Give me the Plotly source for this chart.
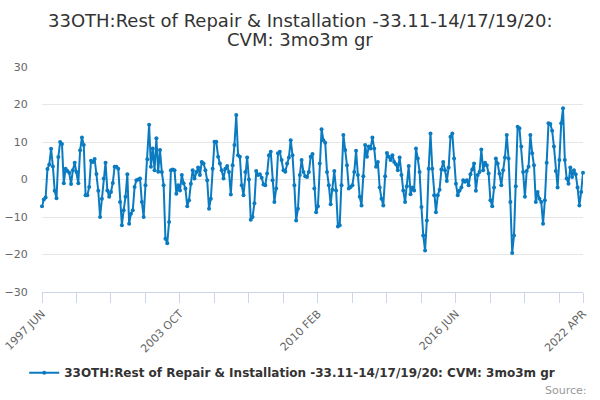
import pandas as pd
import plotly.graph_objects as go

# --- data -----------------------------------------------------------------
months = pd.date_range("1997-06-01", "2022-04-01", freq="MS")
categories = [d.strftime("%Y %b").upper() for d in months]

values = [
    -7.1, -5.3, -4.8, 2.8, 4.0, 8.2, 3.5, -3.0, -5.0, 6.0,
    10.0, 9.5, -1.0, 2.9, 2.3, 1.8, -1.2, 2.5, 4.5, 2.0,
    -1.0, 7.8, 11.2, 9.2, -4.2, -4.2, -2.0, 5.0, 4.7, 5.5,
    1.5, -3.0, -10.0, -5.1, 0.3, 4.5, -2.9, -4.6, -3.3, -0.9,
    3.4, 3.4, 2.9, -6.0, -12.2, -8.2, -4.6, 1.4, -11.8, -9.1,
    -8.2, -2.0, -0.2, 0.0, 0.3, -6.0, -10.0, -1.5, 5.4, 14.6,
    3.4, 8.3, 2.5, 11.0, 2.1, 7.9, 2.0, -1.5, -15.8, -17.0,
    -11.3, 2.5, 2.7, 2.5, -3.8, -1.5, -2.9, 1.2, -1.0, -2.4,
    -7.1, -5.5, -1.1, 2.5, 0.3, 2.0, 3.2, 1.2, 4.7, 4.3,
    2.5, -0.2, -7.8, -5.1, 2.9, 10.1, 10.1, 6.1, 4.3, 2.5,
    0.3, 2.9, 3.6, 2.0, -4.0, 3.8, 9.2, 17.2, 6.5, 6.1,
    -1.5, -4.2, 2.0, 5.9, 0.0, -10.7, -10.0, -6.3, 2.3, 1.2,
    1.4, 0.5, -1.3, -1.5, 1.6, 6.5, 7.4, -0.2, -6.0, -2.4,
    7.0, 7.4, 5.2, 2.5, 2.1, 4.3, 5.9, 10.5, 6.5, -1.5,
    -10.9, -7.8, 1.2, 5.2, 2.0, 0.9, 0.7, 2.0, 6.1, 6.8,
    -2.4, -8.7, -7.1, 4.3, 13.4, 10.5, 9.8, 2.0, -1.5, -6.6,
    -2.7, 2.3, -2.9, -12.5, -12.2, -1.5, 11.9, 7.9, 3.8, -2.4,
    -2.0, -1.5, 2.0, 7.7, 1.2, -4.6, -6.9, 0.9, 9.2, 6.1,
    8.8, 8.3, 11.2, 8.3, 3.4, 4.7, -2.1, -5.1, -6.9, 0.9,
    7.1, 6.1, 5.2, 6.5, 4.7, 4.1, 2.5, 5.9, 1.2, -2.9,
    -6.0, -1.8, 3.6, -3.9, -2.1, -2.9, 8.3, 5.6, 2.0, -7.3,
    -14.9, -18.9, -10.9, 2.9, 12.3, 2.9, -4.2, -8.7, -4.2, -2.7,
    2.7, 4.7, 2.5, -0.4, 3.2, 11.4, 12.3, 5.6, -1.1, -4.2,
    -2.9, -2.1, -0.2, -0.6, -0.2, -1.5, 1.4, 2.7, 4.3, -3.0,
    1.2, 2.0, 8.0, 2.5, 4.5, 3.8, 1.6, -5.5, -7.1, -2.1,
    5.6, 4.3, 1.6, -1.5, 2.5, 5.9, 11.9, 5.6, -6.0, -19.6,
    -14.9, -1.8, 14.1, 13.7, 8.8, 2.0, -4.6, 2.3, 3.4, 11.9,
    7.0, 3.8, -6.0, -3.3, -5.1, -6.0, -11.8, -5.5, 4.5, 15.0,
    14.8, 13.0, 8.8, 2.3, -2.1, 5.2, 15.0, 19.0, 5.2, 0.3,
    -1.1, 3.2, 0.7, 2.5, 1.4, -2.1, -6.9, -3.3, 1.8,
]

series_name = "33OTH:Rest of Repair & Installation -33.11-14/17/19/20: CVM: 3mo3m gr"
title_lines = ["33OTH:Rest of Repair & Installation -33.11-14/17/19/20:",
               "CVM: 3mo3m gr"]
labelled_ticks = ["1997 JUN", "2003 OCT", "2010 FEB", "2016 JUN", "2022 APR"]
tick_step = 19
y_ticks = [-30, -20, -10, 0, 10, 20, 30]

# --- ticks ----------------------------------------------------------------
tick_idx = list(range(0, len(categories), tick_step))
if tick_idx[-1] != len(categories) - 1:
    tick_idx.append(len(categories) - 1)
tickvals = [categories[i] for i in tick_idx]
ticktext = [c if c in labelled_ticks else "" for c in tickvals]

FONT = "DejaVu Sans"
LINE = "#0b7bc1"
W, H = 600, 400
ML, MR, MT, MB = 42, 17, 67, 108
PW, PH = W - ML - MR, H - MT - MB

def px_x(x):  # container pixel -> paper x
    return (x - ML) / PW

def px_y(y):  # container pixel -> paper y
    return 1 - (y - MT) / PH

fig = go.Figure()
fig.add_trace(go.Scatter(
    x=categories, y=values, mode="lines+markers", name=series_name,
    line=dict(color=LINE, width=2),
    marker=dict(color=LINE, size=4),
    cliponaxis=False,
))

annotations = [
    dict(text=t, xref="paper", yref="paper", x=px_x(300), y=px_y(yc),
         xanchor="center", yanchor="middle", showarrow=False,
         font=dict(family=FONT, size=18, color="#333333"))
    for t, yc in zip(title_lines, [20, 40])
]
annotations.append(dict(text="Source:", xref="paper", yref="paper",
                        x=1, y=px_y(390), xanchor="right", yanchor="middle",
                        xshift=6, showarrow=False,
                        font=dict(family=FONT, size=11, color="#999999")))

fig.update_layout(
    width=W, height=H,
    paper_bgcolor="white", plot_bgcolor="white",
    margin=dict(l=ML, r=MR, t=MT, b=MB, autoexpand=False),
    font=dict(family=FONT, color="#666666", size=11),
    showlegend=True,
    legend=dict(orientation="h", x=0.487, xanchor="center", xref="container",
                yref="container", y=0.068, yanchor="middle",
                font=dict(family=FONT, size=12, color="#333333", weight="bold"),
                itemwidth=30),
    xaxis=dict(type="category", range=[0, len(categories) - 1],
               automargin=False,
               tickmode="array", tickvals=tickvals, ticktext=ticktext,
               tickangle=-45, ticks="outside", ticklen=10, tickcolor="#ccd6eb",
               showline=True, linecolor="#ccd6eb", linewidth=1,
               showgrid=False, tickfont=dict(size=11, color="#666666")),
    yaxis=dict(range=[-30, 30], tickmode="array", tickvals=y_ticks,
               automargin=False,
               ticks="outside", ticklen=11, tickcolor="rgba(0,0,0,0)",
               showgrid=True, gridcolor="#e6e6e6", gridwidth=1,
               zeroline=False, showline=False,
               tickfont=dict(size=11, color="#666666")),
    annotations=annotations,
)

fig.write_html("out.html",
               config={"displayModeBar": False},
               post_script="document.body.style.margin='0';")
